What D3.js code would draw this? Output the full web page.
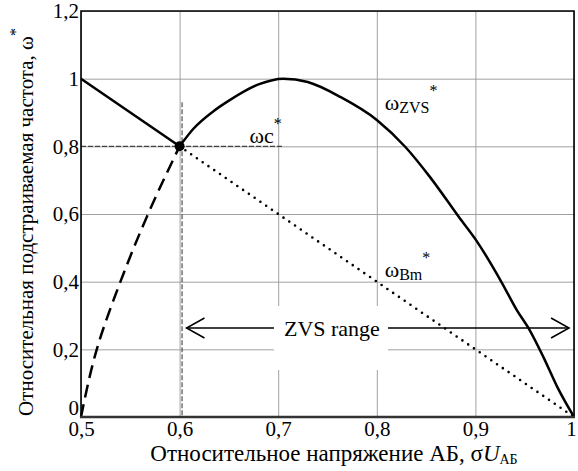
<!DOCTYPE html>
<html>
<head>
<meta charset="utf-8">
<script src="https://cdn.jsdelivr.net/npm/d3@7"></script>
<style>
  body { margin: 0; background: #fff; }
  svg text { font-family: "Liberation Serif", "Times New Roman", Tinos, "DejaVu Serif", serif; }
</style>
</head>
<body>
<svg id="chart" width="578" height="471"></svg>
<script>
// data
var xTicks = [0.5, 0.6, 0.7, 0.8, 0.9, 1];
var yTicks = [0, 0.2, 0.4, 0.6, 0.8, 1, 1.2];

// omega_ZVS, dashed part (below omega_c)
var zvsDashX = [0.5, 0.516, 0.54, 0.568, 0.6];
var zvsDashY = [0, 0.2, 0.4, 0.6, 0.8];

// omega_ZVS, solid part
var zvsX = [0.6, 0.614, 0.634, 0.65, 0.68, 0.705, 0.73, 0.763, 0.8, 0.829, 0.854, 0.884, 0.902, 0.927, 0.942, 0.955, 0.969, 0.983, 1];
var zvsY = [0.8, 0.852, 0.903, 0.935, 0.983, 1.0, 0.99, 0.946, 0.878, 0.798, 0.709, 0.588, 0.517, 0.396, 0.316, 0.257, 0.177, 0.089, 0];

// left solid line 0.5 -> 0.6
var leftX = [0.5, 0.6];
var leftY = [1, 0.8];

// omega_Bm, dotted
var bmX = [0.6, 1];
var bmY = [0.8, 0];

// crossing point omega_c
var cross = [0.6, 0.8];
var guideX = 0.6025, guideTop = 0.93, guideRight = 0.705;

// ZVS range arrow
var rangeX = [0.607, 0.995], rangeY = 0.263;

var W = 578, H = 471;
var margin = {top: 11, right: 4, bottom: 54, left: 81};
var serif = "'Liberation Serif', 'Times New Roman', Tinos, 'DejaVu Serif', serif";

var svg = d3.select("#chart");
var x = d3.scaleLinear().domain([0.5, 1]).range([margin.left, W - margin.right]);
var y = d3.scaleLinear().domain([0, 1.2]).range([H - margin.bottom, margin.top]);

var ru = d3.formatLocale({decimal: ",", thousands: " ", grouping: [3], currency: ["", ""]});
var fmt = ru.format(".1~f");

function pts(xs, ys) {
  return xs.map(function(d, i) { return [d, ys[i]]; });
}

// grid
svg.append("g").attr("class", "grid")
  .attr("transform", "translate(0," + y(0) + ")")
  .call(d3.axisBottom(x).tickValues(xTicks).tickSize(-(y(0) - y(1.2))).tickFormat(""))
  .call(function(g) { g.select(".domain").remove(); })
  .selectAll("line").attr("stroke", "#a0a0a0").attr("stroke-width", 1);

svg.append("g").attr("class", "grid")
  .attr("transform", "translate(" + x(0.5) + ",0)")
  .call(d3.axisLeft(y).tickValues(yTicks).tickSize(-(x(1) - x(0.5))).tickFormat(""))
  .call(function(g) { g.select(".domain").remove(); })
  .selectAll("line").attr("stroke", "#a0a0a0").attr("stroke-width", 1);

// guide lines at omega_c
svg.append("line")
  .attr("x1", x(guideX)).attr("x2", x(guideX))
  .attr("y1", y(guideTop)).attr("y2", y(0))
  .attr("stroke", "#444").attr("stroke-width", 1.1).attr("stroke-dasharray", "5,2");
svg.append("line")
  .attr("x1", x(0.5)).attr("x2", x(guideRight))
  .attr("y1", y(cross[1])).attr("y2", y(cross[1]))
  .attr("stroke", "#444").attr("stroke-width", 1.2).attr("stroke-dasharray", "5,2");

var line = d3.line().x(function(d) { return x(d[0]); }).y(function(d) { return y(d[1]); });

svg.append("path").datum(pts(zvsDashX, zvsDashY))
  .attr("d", line.curve(d3.curveMonotoneY))
  .attr("fill", "none").attr("stroke", "#000").attr("stroke-width", 2.5)
  .attr("stroke-dasharray", "13,7");

svg.append("path").datum(pts(zvsX, zvsY))
  .attr("d", line.curve(d3.curveMonotoneX))
  .attr("fill", "none").attr("stroke", "#000").attr("stroke-width", 2.5);

svg.append("path").datum(pts(leftX, leftY))
  .attr("d", line.curve(d3.curveLinear))
  .attr("fill", "none").attr("stroke", "#000").attr("stroke-width", 2.5);

svg.append("path").datum(pts(bmX, bmY))
  .attr("d", line.curve(d3.curveLinear))
  .attr("fill", "none").attr("stroke", "#000").attr("stroke-width", 2.6)
  .attr("stroke-linecap", "round").attr("stroke-dasharray", "0,7");

svg.append("circle").attr("cx", x(cross[0])).attr("cy", y(cross[1])).attr("r", 5).attr("fill", "#000");

// ZVS range arrow
var ay = y(rangeY), ax1 = x(rangeX[0]), ax2 = x(rangeX[1]);
var arrow = svg.append("g").attr("stroke", "#000").attr("stroke-width", 1.5).attr("fill", "none");
arrow.append("line").attr("x1", ax1).attr("x2", ax2).attr("y1", ay).attr("y2", ay);
arrow.append("path").attr("d", "M" + (ax1 + 18) + "," + (ay - 10) + "L" + ax1 + "," + ay + "L" + (ax1 + 18) + "," + (ay + 10));
arrow.append("path").attr("d", "M" + (ax2 - 18) + "," + (ay - 10) + "L" + ax2 + "," + ay + "L" + (ax2 - 18) + "," + (ay + 10));

var labelX = 0.7545;
svg.append("rect")
  .attr("x", x(labelX) - 58).attr("y", ay - 22)
  .attr("width", 114).attr("height", 64).attr("fill", "#fff");
svg.append("text").attr("x", x(labelX)).attr("y", ay + 8)
  .attr("text-anchor", "middle").attr("font-family", serif).attr("font-size", 22).text("ZVS range");

// frame
svg.append("path")
  .attr("d", "M" + x(0.5) + "," + y(0) + "V" + y(1.2) + "H" + x(1) + "V" + y(0))
  .attr("fill", "none").attr("stroke", "#000").attr("stroke-width", 1.6);
svg.append("line").attr("x1", x(0.5) - 1).attr("x2", x(1) + 1).attr("y1", y(0)).attr("y2", y(0))
  .attr("stroke", "#333").attr("stroke-width", 2.6);

// tick labels
svg.append("g")
  .attr("transform", "translate(0," + y(0) + ")")
  .call(d3.axisBottom(x).tickValues(xTicks).tickSize(0).tickPadding(4).tickFormat(fmt))
  .attr("font-family", serif)
  .call(function(g) { g.select(".domain").remove(); })
  .selectAll("text").attr("font-size", 21).attr("fill", "#000")
  .attr("dx", function(d) { return d === 1 ? -3 : 0; });

svg.append("g")
  .attr("transform", "translate(" + x(0.5) + ",0)")
  .call(d3.axisLeft(y).tickValues(yTicks).tickSize(0).tickPadding(2).tickFormat(fmt))
  .attr("font-family", serif)
  .call(function(g) { g.select(".domain").remove(); })
  .selectAll("text").attr("font-size", 21).attr("fill", "#000")
  .attr("dy", function(d) { return d === 0 ? "-0.1em" : "0.32em"; });

// axis titles
var xt = svg.append("text").attr("x", 334).attr("y", 461).attr("text-anchor", "middle")
  .attr("font-family", serif).attr("font-size", 23);
xt.append("tspan").text("Относительное напряжение АБ, σ");
xt.append("tspan").attr("font-style", "italic").text("U");
xt.append("tspan").attr("font-size", 14).attr("dy", 3).text("АБ");

var yt = svg.append("text").attr("transform", "translate(33,222) rotate(-90)")
  .attr("text-anchor", "middle").attr("font-family", serif).attr("font-size", 21);
yt.append("tspan").text("Относительная подстраиваемая частота, ω");
yt.append("tspan").attr("font-size", 16).attr("dy", -12).text("*");

// curve labels
function omegaLabel(xv, yv, sub, subSize, subDy) {
  var t = svg.append("text").attr("x", x(xv)).attr("y", y(yv))
    .attr("font-family", serif).attr("font-size", 22);
  t.append("tspan").text("ω");
  t.append("tspan").attr("font-size", subSize).attr("dy", subDy).text(sub);
  t.append("tspan").attr("font-size", 16).attr("dy", -subDy - 14).text("*");
}
omegaLabel(0.671, 0.81, "c", 22, 0);
omegaLabel(0.808, 0.907, "ZVS", 16, 3);
omegaLabel(0.808, 0.414, "Bm", 16, 3);
</script>
</body>
</html>
